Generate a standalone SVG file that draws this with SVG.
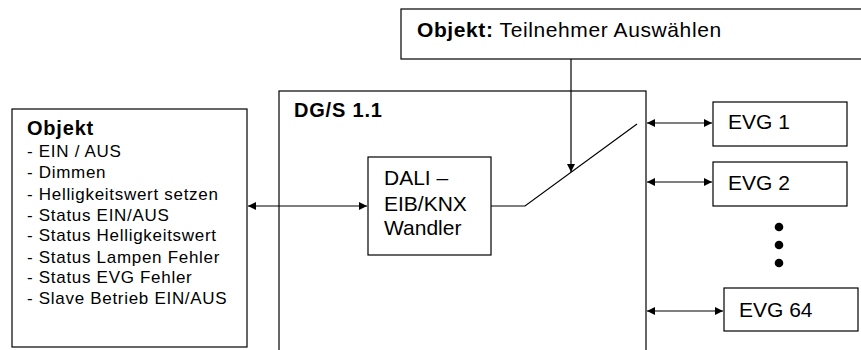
<svg xmlns="http://www.w3.org/2000/svg" width="861" height="350" viewBox="0 0 861 350">
<defs>
<marker id="ah" viewBox="0 0 10 10" refX="10" refY="5" markerWidth="9" markerHeight="8" markerUnits="userSpaceOnUse" orient="auto-start-reverse">
<path d="M0,0 L10,5 L0,10 z" fill="#000"/>
</marker>
<style>
rect{fill:#fff;stroke:#000;stroke-width:1.2}
text{font-family:"Liberation Sans",Arial,sans-serif;fill:#000}
.b{font-weight:bold}
.h{font-size:20px;font-weight:bold;letter-spacing:0.8px}
.li{font-size:17px;letter-spacing:0.7px}
.m{font-size:21px}
.c{fill:none;stroke:#000;stroke-width:1.2}
</style>
</defs>
<g id="dgs">
<rect x="279" y="91" width="367" height="280"/>
<text class="h" x="294" y="117">DG/S 1.1</text>
</g>
<g id="objekt-top">
<rect x="401" y="9" width="470" height="50"/>
<text class="m" x="417" y="37" style="letter-spacing:0.6px"><tspan class="b">Objekt:</tspan> Teilnehmer Auswählen</text>
</g>
<g id="objekt-list">
<rect x="12" y="109" width="235" height="238"/>
<text class="h" x="27" y="135">Objekt</text>
<text class="li" x="27" y="157">- EIN / AUS</text>
<text class="li" x="27" y="177.5">- Dimmen</text>
<text class="li" x="27" y="200">- Helligkeitswert setzen</text>
<text class="li" x="27" y="220.5">- Status EIN/AUS</text>
<text class="li" x="27" y="241">- Status Helligkeitswert</text>
<text class="li" x="27" y="262.5">- Status Lampen Fehler</text>
<text class="li" x="27" y="283">- Status EVG Fehler</text>
<text class="li" x="27" y="304">- Slave Betrieb EIN/AUS</text>
</g>
<g id="wandler">
<rect x="368" y="157" width="123" height="98"/>
<text class="m" x="384" y="185">DALI –</text>
<text class="m" x="384" y="211">EIB/KNX</text>
<text class="m" x="384" y="235">Wandler</text>
</g>
<g id="evg1">
<rect x="713" y="102" width="134" height="44"/>
<text class="m" x="728" y="129">EVG 1</text>
</g>
<g id="evg2">
<rect x="713" y="162" width="134" height="44"/>
<text class="m" x="728" y="190">EVG 2</text>
</g>
<g id="evg64">
<rect x="724" y="288" width="134" height="43"/>
<text class="m" x="739" y="317">EVG 64</text>
</g>
<g id="dots">
<circle cx="779" cy="227" r="4.3"/>
<circle cx="779" cy="245" r="4.3"/>
<circle cx="779" cy="263" r="4.3"/>
</g>
<g id="connectors">
<line class="c" x1="248" y1="206" x2="367" y2="206" marker-start="url(#ah)" marker-end="url(#ah)"/>
<polyline class="c" points="491,206 525,206 637,124"/>
<line class="c" x1="571" y1="59" x2="571" y2="172" marker-end="url(#ah)"/>
<line class="c" x1="647" y1="123" x2="712" y2="123" marker-start="url(#ah)" marker-end="url(#ah)"/>
<line class="c" x1="647" y1="182" x2="712" y2="182" marker-start="url(#ah)" marker-end="url(#ah)"/>
<line class="c" x1="647" y1="311" x2="723" y2="311" marker-start="url(#ah)" marker-end="url(#ah)"/>
</g>
</svg>
